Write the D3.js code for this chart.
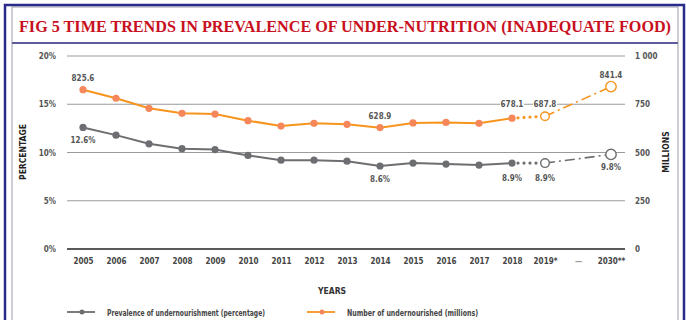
<!DOCTYPE html>
<html><head><meta charset="utf-8">
<script src="https://cdn.jsdelivr.net/npm/d3@7"></script>
<style>
html,body{margin:0;padding:0;background:#fff;}
svg{display:block;}
</style></head>
<body>
<script>
const categories = ["2005","2006","2007","2008","2009","2010","2011","2012","2013","2014","2015","2016","2017","2018","2019*","...","2030**"];
const actualYears = ["2005","2006","2007","2008","2009","2010","2011","2012","2013","2014","2015","2016","2017","2018"];
const pctActual = [12.6, 11.8, 10.9, 10.4, 10.3, 9.7, 9.2, 9.2, 9.1, 8.6, 8.9, 8.8, 8.7, 8.9];
const millActual = [825.6, 781, 729, 703, 699, 665, 637, 651, 646, 628.9, 653, 656, 651, 678.1];
const projYears = ["2018","2019*","2030**"];
const pctProj = [8.9, 8.9, 9.8];
const millProj = [678.1, 687.8, 841.4];
const leftTicks = [0, 5, 10, 15, 20];
const rightTicks = [0, 250, 500, 750, 1000];
const rightTickLabels = ["0","250","500","750","1 000"];
const pctLabels = [{year:"2005", v:12.6, t:"12.6%"},{year:"2014", v:8.6, t:"8.6%"},{year:"2018", v:8.9, t:"8.9%"},{year:"2019*", v:8.9, t:"8.9%"},{year:"2030**", v:9.8, t:"9.8%"}];
const millLabels = [{year:"2005", v:825.6, t:"825.6"},{year:"2014", v:628.9, t:"628.9"},{year:"2030**", v:841.4, t:"841.4"}];
const millBoxLabels = [{year:"2018", v:678.1, t:"678.1"},{year:"2019*", v:687.8, t:"687.8"}];

const W = 686, H = 320;
const FONT = "'DejaVu Sans Condensed','DejaVu Sans',sans-serif";
const svg = d3.select("body").append("svg").attr("width", W).attr("height", H);
svg.append("rect").attr("width", W).attr("height", H).attr("fill", "#fff");

// frame
svg.append("rect").attr("x", 12).attr("y", 7).attr("width", 666).attr("height", 330)
  .attr("fill", "none").attr("stroke", "#9a9aa8").attr("stroke-width", 1);
svg.append("rect").attr("x", 5).attr("y", 5).attr("width", 679).attr("height", 330)
  .attr("fill", "none").attr("stroke", "#2a2a8a").attr("stroke-width", 2.5);
svg.append("line").attr("x1", 12).attr("x2", 678).attr("y1", 43).attr("y2", 43)
  .attr("stroke", "#5c5c9c").attr("stroke-width", 2);

svg.append("text").attr("x", 345).attr("y", 32).attr("text-anchor", "middle")
  .attr("font-family", "'Liberation Serif','DejaVu Serif',serif").attr("font-weight", "bold").attr("font-size", 16)
  .attr("fill", "#c8101e").attr("textLength", 652).attr("lengthAdjust", "spacingAndGlyphs")
  .text("FIG 5 TIME TRENDS IN PREVALENCE OF UNDER-NUTRITION (INADEQUATE FOOD)");

const x = d3.scalePoint().domain(categories).range([83, 611]);
const yL = d3.scaleLinear().domain([0, 20]).range([249, 56]);
const yR = d3.scaleLinear().domain([0, 1000]).range([249, 56]);

// gridlines
const g = svg.append("g");
leftTicks.forEach(t => {
  g.append("line").attr("x1", 67).attr("x2", 625).attr("y1", yL(t)).attr("y2", yL(t))
    .attr("stroke", t === 0 ? "#222" : "#9b9b9b").attr("stroke-width", t === 0 ? 1.5 : 1);
});

// left axis labels
const leftAxis = d3.axisLeft(yL).tickValues(leftTicks).tickFormat(d => d + "%").tickSize(0).tickPadding(0);
const la = svg.append("g").attr("transform", "translate(56,0)").call(leftAxis);
la.select(".domain").remove();
la.selectAll("text").attr("font-family", FONT).attr("font-size", 8).attr("font-weight", "bold").attr("fill", "#555").attr("dy", "0.32em");

const rightAxis = d3.axisRight(yR).tickValues(rightTicks).tickFormat((d, i) => rightTickLabels[i]).tickSize(0).tickPadding(0);
const ra = svg.append("g").attr("transform", "translate(635,0)").call(rightAxis);
ra.select(".domain").remove();
ra.selectAll("text").attr("font-family", FONT).attr("font-size", 8).attr("font-weight", "bold").attr("fill", "#555").attr("dy", "0.32em");

const bottomAxis = d3.axisBottom(x).tickSize(0).tickPadding(0);
const ba = svg.append("g").attr("transform", "translate(0,258)").call(bottomAxis);
ba.select(".domain").remove();
ba.selectAll("text").attr("font-family", FONT).attr("font-size", 8).attr("font-weight", "bold").attr("dy", "0.71em")
  .text(d => d === "..." ? "—" : d).attr("fill", d => d === "..." ? "#999" : "#444");

// axis titles
svg.append("text").attr("transform", "translate(26,152) rotate(-90)").attr("text-anchor", "middle")
  .attr("font-family", FONT).attr("font-weight", "bold").attr("font-size", 8.5).attr("fill", "#222").text("PERCENTAGE");
svg.append("text").attr("transform", "translate(669,152) rotate(-90)").attr("text-anchor", "middle")
  .attr("font-family", FONT).attr("font-weight", "bold").attr("font-size", 8.5).attr("fill", "#222").text("MILLIONS");
svg.append("text").attr("x", 332).attr("y", 294).attr("text-anchor", "middle")
  .attr("font-family", FONT).attr("font-weight", "bold").attr("font-size", 8.5).attr("fill", "#333").text("YEARS");

const ORANGE = "#f7941d", ORANGE_PT = "#f5875a", GRAY = "#6d6e71";

// projection lines
function projLines(vals, scale, color) {
  const pts = projYears.map((yr, i) => [x(yr), scale(vals[i])]);
  svg.append("line").attr("x1", pts[0][0]).attr("y1", pts[0][1]).attr("x2", pts[1][0]).attr("y2", pts[1][1])
    .attr("stroke", color).attr("stroke-width", 3.2).attr("stroke-linecap", "round").attr("stroke-dasharray", "0,6");
  svg.append("line").attr("x1", pts[1][0]).attr("y1", pts[1][1]).attr("x2", pts[2][0]).attr("y2", pts[2][1])
    .attr("stroke", color).attr("stroke-width", 1.6).attr("stroke-dasharray", "10,4,2,4");
}
projLines(pctProj, yL, GRAY);
projLines(millProj, yR, ORANGE);

// actual lines
const lineL = d3.line().x((d, i) => x(actualYears[i])).y(d => yL(d));
const lineR = d3.line().x((d, i) => x(actualYears[i])).y(d => yR(d));
svg.append("path").attr("d", lineL(pctActual)).attr("fill", "none").attr("stroke", GRAY).attr("stroke-width", 2);
svg.append("path").attr("d", lineR(millActual)).attr("fill", "none").attr("stroke", ORANGE).attr("stroke-width", 2);

svg.selectAll(".pL").data(pctActual).enter().append("circle")
  .attr("cx", (d, i) => x(actualYears[i])).attr("cy", d => yL(d)).attr("r", 3.6).attr("fill", GRAY);
svg.selectAll(".pR").data(millActual).enter().append("circle")
  .attr("cx", (d, i) => x(actualYears[i])).attr("cy", d => yR(d)).attr("r", 3.6).attr("fill", ORANGE_PT);

// open projection markers
[1, 2].forEach(i => {
  const r = i === 1 ? 4.3 : 5.2;
  svg.append("circle").attr("cx", x(projYears[i])).attr("cy", yL(pctProj[i])).attr("r", r)
    .attr("fill", "#fff").attr("stroke", GRAY).attr("stroke-width", 1.4);
  svg.append("circle").attr("cx", x(projYears[i])).attr("cy", yR(millProj[i])).attr("r", r)
    .attr("fill", "#fff").attr("stroke", ORANGE).attr("stroke-width", 1.4);
});

// value labels
pctLabels.forEach(l => {
  svg.append("text").attr("x", x(l.year)).attr("y", yL(l.v) + (l.year === "2018" || l.year === "2019*" ? 18 : 16))
    .attr("text-anchor", "middle").attr("font-family", FONT).attr("font-size", 8).attr("font-weight", "bold").attr("fill", "#555").text(l.t);
});
millLabels.forEach(l => {
  svg.append("text").attr("x", x(l.year)).attr("y", yR(l.v) - 9)
    .attr("text-anchor", "middle").attr("font-family", FONT).attr("font-size", 8).attr("font-weight", "bold").attr("fill", "#555").text(l.t);
});
millBoxLabels.forEach(l => {
  const cx = x(l.year);
  const cy = yR(750);
  svg.append("rect").attr("x", cx - 12).attr("y", cy - 5).attr("width", 24).attr("height", 10).attr("fill", "#fff");
  svg.append("text").attr("x", cx).attr("y", cy + 3).attr("text-anchor", "middle")
    .attr("font-family", FONT).attr("font-size", 8).attr("font-weight", "bold").attr("fill", "#555").text(l.t);
});

// legend
function legend(x0, color, ptColor, label) {
  svg.append("line").attr("x1", x0).attr("x2", x0 + 28).attr("y1", 312).attr("y2", 312).attr("stroke", color).attr("stroke-width", 1.8);
  svg.append("circle").attr("cx", x0 + 15).attr("cy", 312).attr("r", 2.5).attr("fill", ptColor);
  const t = svg.append("text").attr("x", x0 + 40).attr("y", 315.5).attr("font-family", FONT).attr("font-size", 9.5)
    .attr("font-weight", "bold").attr("fill", "#444").text(label);
  return t;
}
legend(67, GRAY, GRAY, "Prevalence of undernourishment (percentage)").attr("textLength", 158).attr("lengthAdjust", "spacingAndGlyphs");
legend(307, ORANGE, ORANGE_PT, "Number of undernourished (millions)").attr("textLength", 131).attr("lengthAdjust", "spacingAndGlyphs");
</script>
</body></html>
